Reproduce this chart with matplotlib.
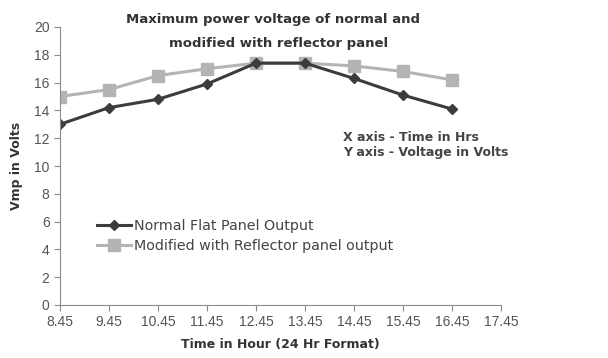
import numpy as np
import matplotlib.pyplot as plt

plt.rcParams['font.family'] = ['DejaVu Sans']

tick_labels = ["8.45", "9.45", "10.45", "11.45", "12.45", "13.45", "14.45", "15.45", "16.45", "17.45"]
normal = [13.0, 14.2, 14.8, 15.9, 17.4, 17.4, 16.3, 15.1, 14.1]
modified = [15.0, 15.5, 16.5, 17.0, 17.4, 17.4, 17.2, 16.8, 16.2]

fig = plt.figure(figsize=(6.08, 3.58), dpi=100)
ax = fig.add_axes([60/608, 1-305/358, 441/608, 278/358])

x = np.arange(len(normal))
ax.plot(x, modified, color="#b4b4b4", lw=2.2, marker="s", ms=8, label="Modified with Reflector panel output")
ax.plot(x, normal, color="#3c3c3c", lw=2.2, marker="D", ms=5.5, label="Normal Flat Panel Output")

ax.set_xlim(0, len(tick_labels)-1)
ax.set_xticks(np.arange(len(tick_labels)))
ax.set_xticklabels(tick_labels, family="Liberation Sans")
ax.set_ylim(0, 20)
ax.set_yticks(np.arange(0, 21, 2))
ax.set_yticklabels([str(v) for v in range(0, 21, 2)], family="Liberation Sans")

for s in ["top", "right"]:
    ax.spines[s].set_visible(False)
for s in ["left", "bottom"]:
    ax.spines[s].set_color("#8c8c8c")
ax.tick_params(colors="#8c8c8c", labelcolor="#555555", labelsize=10, length=4)

ax.set_xlabel("Time in Hour (24 Hr Format)", fontsize=9, fontweight="bold", color="#333333", labelpad=6)
ax.set_ylabel("Vmp in Volts", fontsize=9, fontweight="bold", color="#333333", labelpad=8)

fig.text(273/608, 1-20/358, "Maximum power voltage of normal and", ha="center", va="center",
         fontsize=9.5, fontweight="bold", color="#333333")
fig.text(279/608, 1-43/358, "modified with reflector panel", ha="center", va="center",
         fontsize=9.5, fontweight="bold", color="#333333")

fig.text(343/608, 1-145/358, "X axis - Time in Hrs\nY axis - Voltage in Volts", ha="left", va="center",
         fontsize=9, fontweight="bold", color="#444444", linespacing=1.2)

h, l = ax.get_legend_handles_labels()
ax.legend(h[::-1], l[::-1], loc="upper left", bbox_to_anchor=(0.07, 0.33), frameon=False,
          fontsize=10.3, labelcolor="#444444", handlelength=2.4, handletextpad=0.2, borderaxespad=0,
          labelspacing=0.45)

fig.savefig("out.png", dpi=100)
